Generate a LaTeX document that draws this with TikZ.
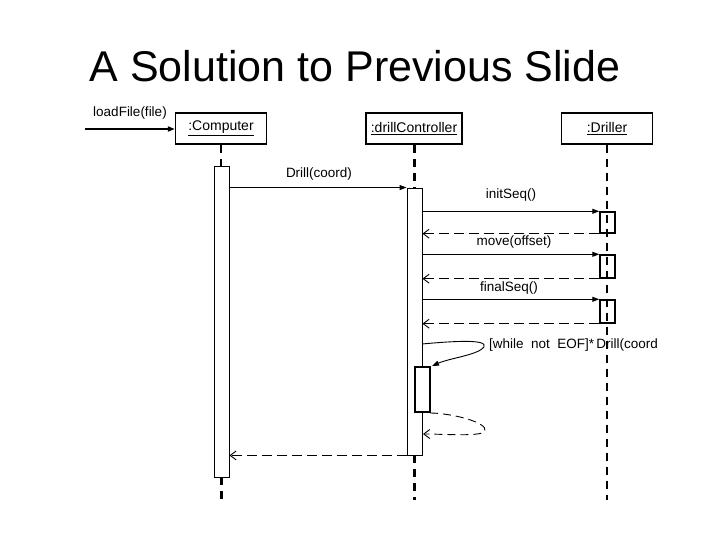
\documentclass[tikz,border=0pt]{standalone}
\usepackage{fontspec}
\setmainfont{Liberation Sans}
\usetikzlibrary{arrows.meta}
\begin{document}
\begin{tikzpicture}[x=1pt,y=-1pt,
  objbox/.style={draw=black,line width=1.3pt,fill=white,minimum width=91pt,minimum height=31pt,inner sep=0pt,font=\fontsize{14}{16}\selectfont},
  actbox/.style={draw=black,line width=0.9pt,fill=white,minimum width=15pt,inner sep=0pt},
  dactbox/.style={draw=black,line width=1.4pt,minimum width=15pt,inner sep=0pt},
  lifeline/.style={line width=2.4pt,dash pattern=on 8pt off 6pt},
  call/.style={line width=0.9pt,-{Triangle[length=7pt,width=5pt]}},
  ret/.style={line width=0.9pt,dash pattern=on 10pt off 5pt,-{Straight Barb[length=6pt,width=9pt]}},
  lbl/.style={font=\fontsize{13.5}{15}\selectfont,inner sep=0pt,anchor=base}
]
\useasboundingbox (0,0) rectangle (720,540);
\fill[white] (0,0) rectangle (720,540);

% title
\node[anchor=base,inner sep=0pt,font=\fontsize{43}{48}\selectfont] (title) at (355,82) {A Solution to Previous Slide};

% objects
\node[objbox] (comp) at (221,128.5) {\underline{:Computer}};
\node[objbox,minimum width=96pt] (ctrl) at (414,128.5) {\underline{:drillController}};
\node[objbox] (drl) at (607,128.5) {\underline{:Driller}};

% lifeline ends
\coordinate (compend) at (221.5,500);
\coordinate (ctrlend) at (414.5,500);
\coordinate (drlend) at (607,500);

% driller lifeline
\draw[lifeline] (drl.south) -- (drlend);

% activations
\node[actbox,minimum height=311pt] (ca) at (221.5,321.5) {};
\node[actbox,minimum height=267pt] (cta) at (414.5,321.5) {};
\node[dactbox,minimum height=21pt] (d1) at (607.5,222.5) {};
\node[dactbox,minimum height=23pt] (d2) at (607.5,266.5) {};
\node[dactbox,minimum height=23pt] (d3) at (607.5,311.5) {};
\node[draw=black,line width=1.8pt,fill=white,minimum width=15pt,minimum height=45pt,inner sep=0pt] (nb) at (422.5,389.5) {};

% lifelines of computer and controller
\draw[lifeline] (comp.south) -- (comp.south |- ca.north);
\draw[lifeline] (ca.south) -- (compend);
\draw[lifeline] (ctrl.south -| cta.north) -- (cta.north);
\draw[lifeline] (cta.south) -- (ctrlend);

% loadFile
\coordinate (start) at (85,129);
\draw[line width=1.8pt,-{Triangle[length=7pt,width=5pt]}] (start) -- (start -| comp.west);
\node[lbl] (lload) at (130,117) {loadFile(file)};

% Drill(coord)
\draw[call] (ca.east |- cta.north) -- (cta.north west);
\node[lbl] (ldrill) at (319,178) {Drill(coord)};

% initSeq
\draw[call] (cta.east |- d1.north) -- (d1.north west);
\draw[ret] (d1.south west) -- (cta.east |- d1.south);
\node[lbl] (linit) at (511,199) {initSeq()};

% move
\draw[call] (cta.east |- d2.north) -- (d2.north west);
\draw[ret] (d2.south west) -- (cta.east |- d2.south);
\node[lbl] (lmove) at (514,245) {move(offset)};

% finalSeq
\draw[call] (cta.east |- d3.north) -- (d3.north west);
\draw[ret] (d3.south west) -- (cta.east |- d3.south);
\node[lbl] (lfinal) at (509,291) {finalSeq()};

% self call
\coordinate (s1) at (422,344);
\coordinate (s2) at (484,347);
\coordinate (s3) at (432,366);
\draw[call] (s1) .. controls (455,341) and (488,339) .. (s2) .. controls (478,355) and (450,358) .. (s3);
\node[lbl,anchor=base west] (lloop) at (489,348) {\spaceskip=0.55em plus 0.1em [while not EOF]*\,Drill(coord};

% self return
\coordinate (r1) at (430,413);
\coordinate (r2) at (485,431);
\coordinate (r3) at (423,434);
\draw[ret,dash pattern=on 8pt off 5pt] (r1) .. controls (450,413) and (488,422) .. (r2) .. controls (482,437) and (445,434) .. (r3);

% final return
\draw[ret] (cta.south west) -- (ca.east |- cta.south);
\end{tikzpicture}
\end{document}
